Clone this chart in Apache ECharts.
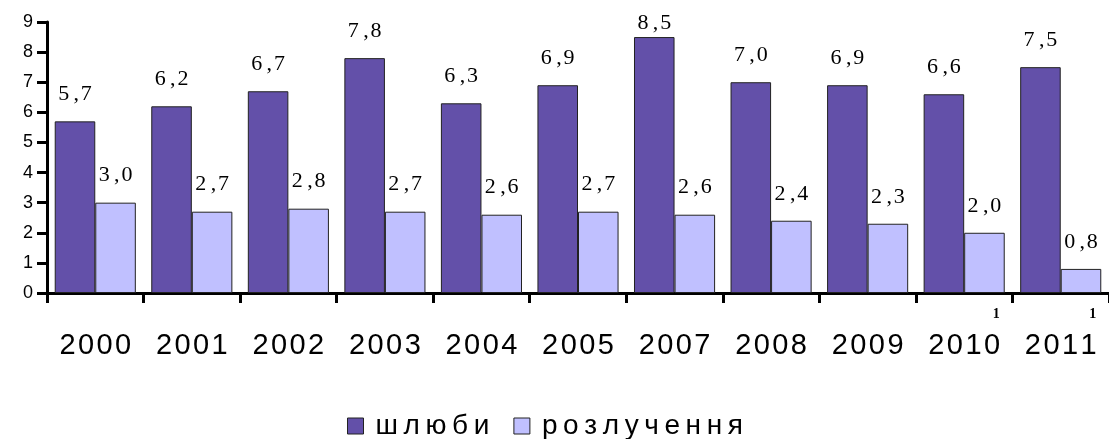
<!doctype html>
<html>
<head>
<meta charset="UTF-8">
<title>шлюби та розлучення</title>
<script src="https://cdn.jsdelivr.net/npm/echarts@6/dist/echarts.min.js"></script>
<style>
  html, body { margin: 0; padding: 0; background: #fff; }
  #main { width: 1109px; height: 439px; }
</style>
</head>
<body>
<div id="main"></div>
<script>
// роки (2006 відсутній у джерелі)
var years = ['2000', '2001', '2002', '2003', '2004', '2005', '2007', '2008', '2009', '2010', '2011'];
// примітки-виноски під роками
var notes = ['', '', '', '', '', '', '', '', '', '1', '1'];
// шлюби, на 1000 населення
var marriages = [5.7, 6.2, 6.7, 7.8, 6.3, 6.9, 8.5, 7.0, 6.9, 6.6, 7.5];
// розлучення, на 1000 населення
var divorces = [3.0, 2.7, 2.8, 2.7, 2.6, 2.7, 2.6, 2.4, 2.3, 2.0, 0.8];
var yTicks = [0, 1, 2, 3, 4, 5, 6, 7, 8, 9];

var SANS = 'Liberation Sans, Arial, sans-serif';
var SERIF = 'Liberation Serif, Times New Roman, serif';

// розрідження символів як у вихідній картинці
function spaced(str, sep) {
    return str.split('').join(sep);
}
function valLabel(p) {
    return p.value.toFixed(1).replace('.', '\u2009,\u200A');
}
// підпис не повинен вилазити за верх полотна
function keepInside(params) {
    var r = params.labelRect;
    if (r.y < 12) {
        return { dy: 12 - r.y };
    }
}

var myChart = echarts.init(document.getElementById('main'));
var option = {
    animation: false,
    grid: { left: 47, right: 0, top: 22, bottom: 146, containLabel: false },
    legend: {
        left: 347,
        top: 412,
        padding: 0,
        itemWidth: 16,
        itemHeight: 16,
        itemGap: 24,
        icon: 'rect',
        itemStyle: { borderColor: '#222', borderWidth: 1 },
        textStyle: { fontFamily: SANS, fontSize: 28, color: '#000', padding: [0, 0, 0, 7] },
        formatter: function (name) { return spaced(name, '\u2009'); },
        data: ['шлюби', 'розлучення']
    },
    xAxis: {
        type: 'category',
        data: years,
        boundaryGap: true,
        axisLine: { lineStyle: { color: '#000', width: 3 } },
        axisTick: { show: true, length: 10, lineStyle: { color: '#000', width: 3 } },
        axisLabel: {
            interval: 0,
            margin: 12,
            formatter: function (val, idx) {
                var n = notes[idx] || ' ';
                return '{s|' + n + '}\n{y|' + spaced(val, '\u200A') + '}';
            },
            rich: {
                s: { fontFamily: SERIF, fontWeight: 'bold', fontSize: 14, lineHeight: 18, color: '#000', padding: [0, 0, 0, 64] },
                y: { fontFamily: SANS, fontSize: 29, lineHeight: 46, color: '#000' }
            }
        }
    },
    yAxis: {
        type: 'value',
        min: yTicks[0],
        max: yTicks[yTicks.length - 1],
        interval: 1,
        splitLine: { show: false },
        axisLine: { show: true, lineStyle: { color: '#000', width: 3 } },
        axisTick: { show: true, length: 10, lineStyle: { color: '#000', width: 3 } },
        axisLabel: { fontFamily: SANS, fontSize: 18, color: '#000', margin: 14 }
    },
    series: [
        {
            name: 'шлюби',
            type: 'bar',
            data: marriages,
            barGap: '0%',
            barCategoryGap: '16%',
            itemStyle: { color: '#6350A9', borderColor: '#222', borderWidth: 1 },
            label: {
                show: true,
                position: 'top',
                distance: 16,
                fontFamily: SERIF,
                fontSize: 22,
                color: '#000',
                formatter: valLabel
            },
            labelLayout: keepInside
        },
        {
            name: 'розлучення',
            type: 'bar',
            data: divorces,
            itemStyle: { color: '#C0C0FF', borderColor: '#222', borderWidth: 1 },
            label: {
                show: true,
                position: 'top',
                distance: 16,
                fontFamily: SERIF,
                fontSize: 22,
                color: '#000',
                formatter: valLabel
            },
            labelLayout: keepInside
        }
    ]
};
myChart.setOption(option);
</script>
</body>
</html>
